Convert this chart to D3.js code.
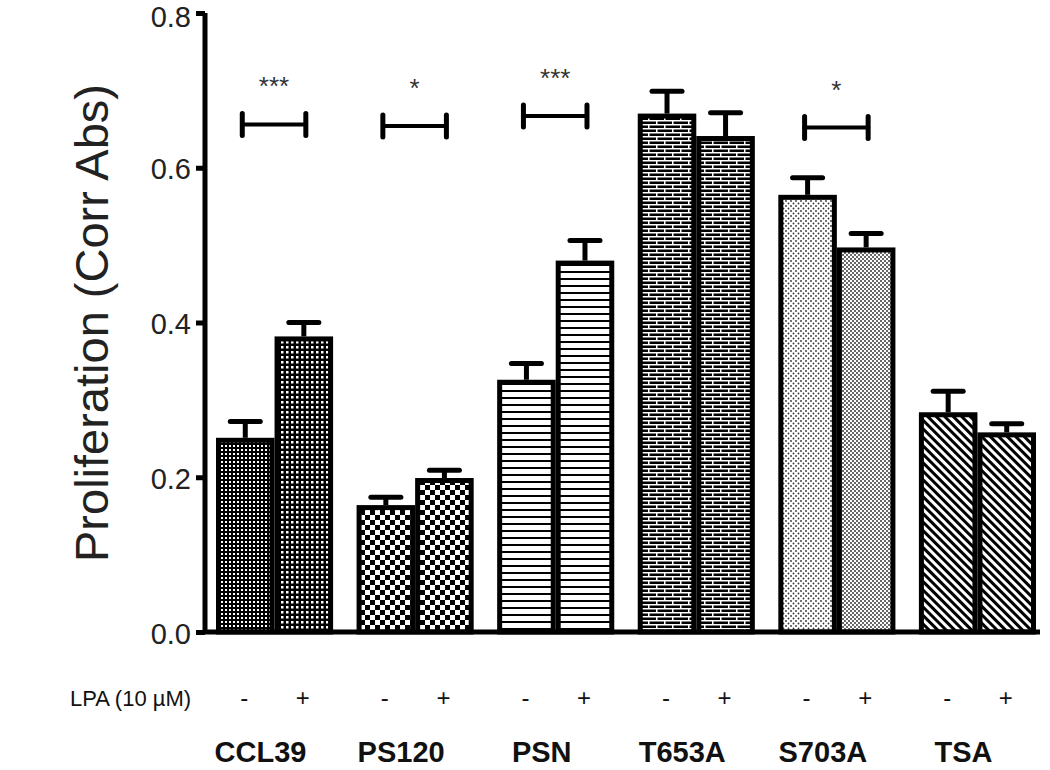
<!DOCTYPE html>
<html><head><meta charset="utf-8">
<script src="https://cdn.jsdelivr.net/npm/d3@7"></script>
<style>body{margin:0;background:#fff}svg{display:block}text{font-family:"Liberation Sans",Arial,sans-serif}</style>
</head><body><svg id="c" width="1050" height="770"></svg>
<script>
const groups = ["CCL39","PS120","PSN","T653A","S703A","TSA"];
const conditions = ["-","+"];
const minusVals = [0.251,0.164,0.326,0.670,0.565,0.284];
const minusErr  = [0.021,0.010,0.021,0.029,0.022,0.027];
const plusVals  = [0.382,0.199,0.480,0.641,0.497,0.258];
const plusErr   = [0.018,0.010,0.026,0.030,0.018,0.011];
const minusPat  = ["dotsA","checker","hlines","bricks","stippleA","diag"];
const plusPat   = ["dotsB","checker","hlines","bricks","stippleB","diag"];
const yTicks = [0.0,0.2,0.4,0.6,0.8];
const sigGroups = ["CCL39","PS120","PSN","S703A"];
const sigLevel  = [0.656,0.654,0.667,0.652];
const sigStars  = ["***","*","***","*"];
const yLabel = "Proliferation (Corr Abs)";
const lpaLabel = "LPA (10 µM)";

const svg = d3.select("#c");
const defs = svg.append("defs");
function pat(id,w,h,fn,tr){const p=defs.append("pattern").attr("id",id).attr("patternUnits","userSpaceOnUse").attr("width",w).attr("height",h);if(tr)p.attr("patternTransform",tr);fn(p);}
pat("dotsA",4,4,p=>{p.append("rect").attr("width",4).attr("height",4).attr("fill","#000");p.append("rect").attr("x",1).attr("y",1).attr("width",2).attr("height",2).attr("fill","#fff");});
pat("dotsB",5,5,p=>{p.append("rect").attr("width",5).attr("height",5).attr("fill","#000");p.append("rect").attr("x",1).attr("y",1).attr("width",2.5).attr("height",2.5).attr("fill","#fff");});
pat("checker",10,10,p=>{p.append("rect").attr("width",10).attr("height",10).attr("fill","#fff");p.append("rect").attr("width",5).attr("height",5).attr("fill","#000");p.append("rect").attr("x",5).attr("y",5).attr("width",5).attr("height",5).attr("fill","#000");});
pat("hlines",8,7,p=>{p.append("rect").attr("width",8).attr("height",7).attr("fill","#fff");p.append("rect").attr("y",5).attr("width",8).attr("height",2).attr("fill","#000");});
pat("bricks",16,8,p=>{p.append("rect").attr("width",16).attr("height",8).attr("fill","#000");p.append("rect").attr("y",0).attr("width",16).attr("height",1.5).attr("fill","#fff");p.append("rect").attr("y",4).attr("width",16).attr("height",1.5).attr("fill","#fff");p.append("rect").attr("x",0).attr("y",0).attr("width",1.5).attr("height",4).attr("fill","#fff");p.append("rect").attr("x",8).attr("y",4).attr("width",1.5).attr("height",4).attr("fill","#fff");});
pat("stippleA",5,5,p=>{p.append("rect").attr("width",5).attr("height",5).attr("fill","#fff");p.append("circle").attr("cx",1).attr("cy",1).attr("r",0.9).attr("fill","#333");p.append("circle").attr("cx",3.5).attr("cy",3.5).attr("r",0.9).attr("fill","#333");});
pat("stippleB",4,4,p=>{p.append("rect").attr("width",4).attr("height",4).attr("fill","#fff");p.append("circle").attr("cx",1).attr("cy",1).attr("r",0.9).attr("fill","#222");p.append("circle").attr("cx",3).attr("cy",3).attr("r",0.9).attr("fill","#222");});
pat("diag",6,6,p=>{p.append("rect").attr("width",6).attr("height",6).attr("fill","#fff");p.append("rect").attr("width",3).attr("height",6).attr("fill","#000");},"rotate(-45)");

const y = d3.scaleLinear().domain([0,0.8]).range([632,13]);
const x = d3.scaleBand().domain(groups).range([216,1036]).paddingInner(0.167).paddingOuter(0);
const xs = d3.scaleBand().domain(conditions).range([0,x.bandwidth()]);

const data = [];
groups.forEach((g,i)=>{
  data.push({g,c:"-",v:minusVals[i],e:minusErr[i],p:minusPat[i]});
  data.push({g,c:"+",v:plusVals[i],e:plusErr[i],p:plusPat[i]});
});
const bx = d=>x(d.g)+xs(d.c);
const bw = xs.bandwidth();

// error bars
const eb = svg.append("g");
data.forEach(d=>{
  const cx = bx(d)+bw/2;
  eb.append("line").attr("x1",cx).attr("x2",cx).attr("y1",y(d.v)).attr("y2",y(d.v+d.e)).attr("stroke","#000").attr("stroke-width",5);
  eb.append("line").attr("x1",cx-15).attr("x2",cx+15).attr("y1",y(d.v+d.e)).attr("y2",y(d.v+d.e)).attr("stroke","#000").attr("stroke-width",5).attr("stroke-linecap","round");
});
// bars
svg.append("g").selectAll("rect").data(data).join("rect")
  .attr("x",d=>bx(d)+2.5).attr("y",d=>y(d.v)+2.5)
  .attr("width",bw-5).attr("height",d=>y(0)-y(d.v)-2.5)
  .attr("fill",d=>`url(#${d.p})`).attr("stroke","#000").attr("stroke-width",5);

// axes
const yAxis = svg.append("g").attr("transform","translate(205,0)")
  .call(d3.axisLeft(y).tickValues(yTicks).tickFormat(d3.format(".1f")).tickSize(9).tickPadding(5));
yAxis.select(".domain").attr("stroke-width",5).attr("d",`M0,${y(0.8)}V${y(0)}`);
yAxis.selectAll(".tick line").attr("stroke-width",5);
yAxis.selectAll(".tick text").attr("font-size",29).attr("fill","#222").attr("dy",d=>d===0.8?"0.48em":"0.38em");
svg.append("line").attr("x1",203).attr("x2",1040).attr("y1",y(0)).attr("y2",y(0)).attr("stroke","#000").attr("stroke-width",5);

svg.append("text").attr("transform",`translate(108,323) rotate(-90)`).attr("text-anchor","middle").attr("font-size",47).attr("fill","#222").text(yLabel);

// significance
sigGroups.forEach((g,i)=>{
  const x1 = x(g)+xs("-")+bw/2-3, x2 = x(g)+xs("+")+bw/2+2;
  const yy = y(sigLevel[i]);
  const s = svg.append("g").attr("stroke","#000").attr("stroke-linecap","round");
  s.append("line").attr("x1",x1).attr("x2",x2).attr("y1",yy).attr("y2",yy).attr("stroke-width",4);
  s.append("line").attr("x1",x1).attr("x2",x1).attr("y1",yy-11).attr("y2",yy+11).attr("stroke-width",5);
  s.append("line").attr("x1",x2).attr("x2",x2).attr("y1",yy-11).attr("y2",yy+11).attr("stroke-width",5);
  svg.append("text").attr("x",(x1+x2)/2).attr("y",yy-29).attr("text-anchor","middle").attr("font-size",26).attr("fill","#333").text(sigStars[i]);
});

// condition labels
svg.append("text").attr("x",70).attr("y",706).attr("font-size",22).attr("fill","#111").text(lpaLabel);
data.forEach(d=>{
  svg.append("text").attr("x",bx(d)+bw/2-1).attr("y",706).attr("text-anchor","middle").attr("font-size",24).attr("fill","#111").text(d.c);
});
groups.forEach(g=>{
  svg.append("text").attr("x",x(g)+x.bandwidth()/2-14).attr("y",762).attr("text-anchor","middle").attr("font-size",29).attr("font-weight","bold").attr("fill","#111").text(g);
});
</script></body></html>
